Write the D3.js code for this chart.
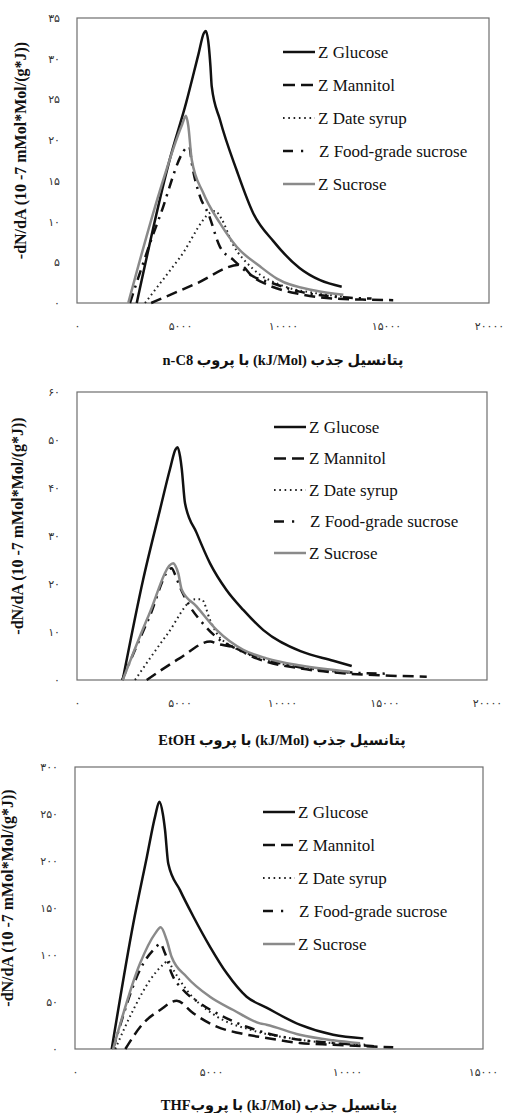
<!DOCTYPE html>
<html>
<head>
<meta charset="utf-8">
<script src="https://cdn.jsdelivr.net/npm/d3@7"></script>
<style>
  html, body { margin: 0; padding: 0; background: #fff; }
  svg { display: block; }
</style>
</head>
<body>
<div id="chart"></div>
<script>
// series names (legend order)
const seriesNames = ["Z Glucose", "Z Mannitol", "Z Date syrup", "Z Food-grade sucrose", "Z Sucrose"];

// panel 1 : n-C8  ([energy, -dN/dA])
const c8Glucose = [[2900,0],[4500,17.6],[5300,24.6],[5900,30.6],[6150,33.1],[6250,33.4],[6400,31.5],[6480,29],[6540,26.6],[6940,22.5],[7750,16.3],[8560,11.0],[9530,7.6],[10800,4.3],[11800,2.8],[12850,2.0]];
const c8Mannitol = [[3600,0],[5800,2.4],[7900,4.7],[8540,3.2],[9190,2.3],[10800,1.1],[12400,0.55],[14200,0.4],[15350,0.35]];
const c8Date = [[3300,0],[5000,5.6],[6700,11.3],[7000,10.4],[7570,7.2],[8540,4.2],[10000,2.1],[11600,1.2],[12900,0.8]];
const c8Food = [[2570,0],[4000,10.5],[5450,19.2],[5570,17.2],[5970,13.1],[6370,11.0],[6940,6.9],[7590,5.3],[8400,3.5],[9530,2.4],[10800,1.4],[12400,0.8],[14300,0.55]];
const c8Sucrose = [[2490,0],[4000,13.6],[5100,21.9],[5290,23.0],[5400,21.8],[5570,17.6],[6130,13.5],[6940,9.8],[7750,6.9],[8880,4.5],[9700,3.0],[11600,1.5],[12930,1.0]];

// panel 2 : EtOH
const etGlucose = [[2230,0],[3230,21.0],[4050,35.5],[4540,44.0],[4800,48.0],[4910,48.5],[5030,46.5],[5110,44.0],[5270,36.8],[5840,30.6],[6490,24.3],[7300,18.7],[8110,14.6],[9090,10.4],[10900,6.0],[12500,4.0],[13400,2.9]];
const etMannitol = [[3400,0],[5000,4.5],[6500,8.0],[6800,7.6],[7620,6.8],[8760,4.5],[9250,3.8],[10900,2.4],[13300,1.3],[15300,0.9],[17060,0.7]];
const etDate = [[2830,0],[4400,9.5],[5760,16.8],[6080,16.8],[6490,12.5],[6820,9.7],[7620,6.9],[9250,4.1],[11000,2.6],[13200,1.5]];
const etFood = [[2200,0],[3500,12.8],[4620,23.3],[4780,22.0],[5020,19.4],[5510,15.3],[6000,12.5],[6980,8.3],[7790,6.5],[8930,4.7],[10900,2.6],[13200,1.6],[15300,1.3]];
const etSucrose = [[2230,0],[3500,13.5],[4700,24.3],[4800,23.8],[4940,22.2],[5110,18.8],[5840,15.3],[6820,10.4],[8110,6.3],[9250,4.5],[10900,3.0],[13320,1.7]];

// panel 3 : THF
const thGlucose = [[1350,0],[2140,133],[2640,204],[2950,248],[3100,263],[3230,250],[3310,233],[3430,197],[3860,169],[4350,141],[4960,109],[5580,80.5],[6310,55.6],[7040,44],[8260,25.9],[9490,15.2],[10600,11.3]];
const thMannitol = [[1850,0],[2510,27.3],[3130,41.5],[3740,51.4],[4350,38.0],[5210,23.7],[6070,16.7],[7040,11.7],[8260,6.4],[9490,4.6],[11700,1.8]];
const thDate = [[1480,0],[2140,41.5],[2760,73.4],[3250,90],[3430,94],[3550,87.6],[4100,63],[5200,34.8],[6430,20.6],[8260,9.9],[10700,4.6]];
const thFood = [[1400,0],[2510,91],[3000,109],[3120,112.4],[3310,101.8],[3550,80.5],[3980,62.8],[4600,48.6],[5450,34.4],[6310,23.7],[7040,17.0],[8260,9.9],[9490,6.4],[11000,3.0]];
const thSucrose = [[1400,0],[2390,91],[2950,123],[3150,129.5],[3370,116],[3550,98.2],[4100,76.9],[4960,55.6],[5820,41.5],[6800,27.3],[7040,25.9],[8260,15.2],[9490,9.2],[10480,6.0]];

// axis ranges and labels
const xMaxes = [20000, 20000, 15000];
const yMaxes = [35, 60, 300];
const ySteps = [5, 10, 50];
const yTitle = "-dN/dA (10 -7 mMol*Mol/(g*J))";
const xTitles = [
  "پتانسیل جذب (kJ/Mol) با پروب n-C8",
  "پتانسیل جذب (kJ/Mol) با پروب EtOH",
  "پتانسیل جذب (kJ/Mol) با پروبTHF"
];

const panelData = [
  [c8Glucose, c8Mannitol, c8Date, c8Food, c8Sucrose],
  [etGlucose, etMannitol, etDate, etFood, etSucrose],
  [thGlucose, thMannitol, thDate, thFood, thSucrose]
];

// layout (pixels)
const boxes = [
  {left: 77, right: 489, top: 18, bottom: 303, yTitleX: 20, xTitleY: 360, legX: 283, legY: 52, legStep: 33},
  {left: 77, right: 487, top: 392, bottom: 680, yTitleX: 17, xTitleY: 740, legX: 274, legY: 427, legStep: 31.5},
  {left: 75, right: 483, top: 767, bottom: 1049, yTitleX: 7, xTitleY: 1105, legX: 263, legY: 812, legStep: 33}
];

const styles = [
  {stroke: "#111", width: 2.5, dash: null, legDash: null},
  {stroke: "#111", width: 2.5, dash: "11,6", legDash: "12,6"},
  {stroke: "#222", width: 2.0, dash: "1.6,3.4", legDash: "1.6,3.7"},
  {stroke: "#111", width: 2.5, dash: "10,6,2.2,6", legDash: "10,8,2.2,30"},
  {stroke: "#8a8a8a", width: 2.5, dash: null, legDash: null}
];

const fa = s => String(s).replace(/\d/g, d => "۰۱۲۳۴۵۶۷۸۹"[d]);

const width = 505, height = 1113;
const svg = d3.select("#chart").append("svg")
  .attr("width", width)
  .attr("height", height);

boxes.forEach((b, i) => {
  const x = d3.scaleLinear().domain([0, xMaxes[i]]).range([b.left, b.right]);
  const y = d3.scaleLinear().domain([0, yMaxes[i]]).range([b.bottom, b.top]);
  const g = svg.append("g");

  // frame
  g.append("rect")
    .attr("x", b.left).attr("y", b.top)
    .attr("width", b.right - b.left).attr("height", b.bottom - b.top)
    .attr("fill", "none")
    .attr("stroke", "#6e6e6e")
    .attr("stroke-width", 1.2);

  // axes
  const xAxis = g.append("g")
    .attr("transform", `translate(0,${b.bottom})`)
    .call(d3.axisBottom(x).tickValues(d3.range(0, xMaxes[i] + 1, 5000))
      .tickSize(0).tickPadding(19).tickFormat(fa));
  const yAxis = g.append("g")
    .attr("transform", `translate(${b.left},0)`)
    .call(d3.axisLeft(y).tickValues(d3.range(0, yMaxes[i] + 1, ySteps[i]))
      .tickSize(0).tickPadding(17).tickFormat(fa));
  [xAxis, yAxis].forEach(a => {
    a.select(".domain").remove();
    a.selectAll("text")
      .attr("font-family", "'DejaVu Sans', sans-serif")
      .attr("font-size", "11px")
      .attr("fill", "#333");
  });

  // lines
  const line = d3.line()
    .x(d => x(d[0]))
    .y(d => y(d[1]))
    .curve(d3.curveMonotoneX);

  panelData[i].forEach((pts, k) => {
    const st = styles[k];
    g.append("path")
      .datum(pts)
      .attr("d", line)
      .attr("fill", "none")
      .attr("stroke", st.stroke)
      .attr("stroke-width", st.width)
      .attr("stroke-dasharray", st.dash)
      .attr("stroke-linejoin", "round");
  });

  // legend
  const leg = g.append("g");
  seriesNames.forEach((name, k) => {
    const st = styles[k];
    const ly = b.legY + k * b.legStep;
    leg.append("line")
      .attr("x1", b.legX).attr("x2", b.legX + 32)
      .attr("y1", ly).attr("y2", ly)
      .attr("stroke", st.stroke)
      .attr("stroke-width", st.width)
      .attr("stroke-dasharray", st.legDash);
    leg.append("text")
      .attr("x", b.legX + (k === 3 ? 36 : 35))
      .attr("y", ly)
      .attr("dy", "0.33em")
      .attr("font-family", "Liberation Serif, serif")
      .attr("font-size", "17px")
      .attr("fill", "#111")
      .text(name);
  });

  // y title
  g.append("text")
    .attr("transform", `translate(${b.yTitleX},${(b.top + b.bottom) / 2 - 10}) rotate(-90)`)
    .attr("text-anchor", "middle")
    .attr("dy", "0.35em")
    .attr("font-family", "Liberation Serif, serif")
    .attr("font-weight", "bold")
    .attr("font-size", "16px")
    .attr("fill", "#111")
    .text(yTitle);

  // x title (Persian, right to left)
  g.append("text")
    .attr("x", (b.left + b.right) / 2)
    .attr("y", b.xTitleY)
    .attr("dy", "0.35em")
    .attr("text-anchor", "middle")
    .attr("direction", "rtl")
    .attr("font-family", "Liberation Serif, DejaVu Sans, serif")
    .attr("font-weight", "bold")
    .attr("font-size", "14.5px")
    .attr("fill", "#111")
    .text(xTitles[i]);
});
</script>
</body>
</html>
